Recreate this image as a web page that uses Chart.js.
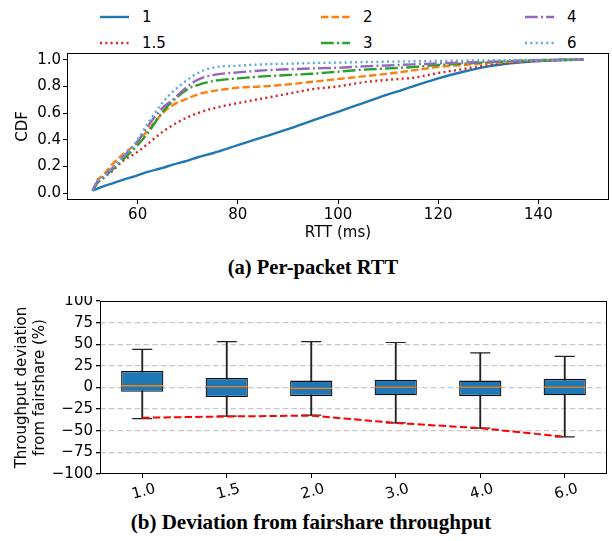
<!DOCTYPE html>
<html>
<head>
<meta charset="utf-8">
<script src="https://cdn.jsdelivr.net/npm/chart.js@4.4.1/dist/chart.umd.min.js"></script>
<style>
  body { margin: 0; background: #fff; }
  #page { position: relative; width: 612px; height: 541px; overflow: hidden; font-family: "DejaVu Sans"; }
  canvas { position: absolute; left: 0; }
  .cap { position: absolute; left: 0; width: 612px; text-align: center; font-family: "Liberation Serif"; font-weight: bold; color: #000; line-height: 24px; }
  .leg { position: absolute; font-size: 15px; color: #000; line-height: 18px; }
  .leg svg { position: absolute; left: 0; top: 6px; }
  .leg span { position: absolute; left: 42px; top: 0; white-space: nowrap; }
</style>
</head>
<body>
<div id="page">
  <div id="legend"></div>
  <canvas id="c1" width="612" height="195" style="top:48px"></canvas>
  <div class="cap" style="top:255px; font-size:20.5px; left:7px">(a) Per-packet RTT</div>
  <canvas id="c2" width="612" height="208" style="top:296px"></canvas>
  <div class="cap" style="top:510px; font-size:21px; left:5px">(b) Deviation from fairshare throughput</div>
</div>
<script>
// ---- top: CDF of per-packet RTT ----
var rttX = [51, 52, 53, 55, 57, 60, 62, 65, 67, 70, 72, 75, 80, 85, 90, 95, 100, 105, 110, 115, 120, 125, 130, 135, 140, 145, 149];
var cdf1   = [0.02, 0.035, 0.05, 0.075, 0.10, 0.135, 0.16, 0.19, 0.215, 0.245, 0.27, 0.30, 0.36, 0.42, 0.48, 0.545, 0.61, 0.675, 0.74, 0.80, 0.86, 0.91, 0.95, 0.975, 0.99, 0.998, 1.0];
var cdf1_5 = [0.02, 0.08, 0.11, 0.17, 0.24, 0.31, 0.37, 0.46, 0.51, 0.57, 0.60, 0.635, 0.675, 0.71, 0.745, 0.78, 0.80, 0.83, 0.85, 0.865, 0.90, 0.93, 0.96, 0.978, 0.99, 0.997, 1.0];
var cdf2   = [0.02, 0.10, 0.13, 0.22, 0.29, 0.38, 0.47, 0.60, 0.66, 0.71, 0.74, 0.765, 0.79, 0.80, 0.815, 0.835, 0.855, 0.875, 0.895, 0.92, 0.945, 0.96, 0.975, 0.985, 0.995, 0.999, 1.0];
var cdf3   = [0.02, 0.08, 0.11, 0.18, 0.25, 0.36, 0.45, 0.61, 0.69, 0.78, 0.81, 0.84, 0.86, 0.875, 0.885, 0.895, 0.91, 0.925, 0.935, 0.945, 0.96, 0.97, 0.98, 0.99, 0.996, 0.999, 1.0];
var cdf4   = [0.02, 0.09, 0.12, 0.19, 0.27, 0.39, 0.50, 0.64, 0.70, 0.80, 0.85, 0.885, 0.905, 0.92, 0.928, 0.935, 0.94, 0.95, 0.957, 0.965, 0.972, 0.978, 0.985, 0.99, 0.996, 0.999, 1.0];
var cdf6   = [0.02, 0.09, 0.12, 0.19, 0.27, 0.40, 0.52, 0.68, 0.76, 0.85, 0.90, 0.94, 0.955, 0.965, 0.97, 0.975, 0.978, 0.982, 0.985, 0.988, 0.99, 0.993, 0.995, 0.997, 0.998, 0.999, 1.0];

var seriesNames  = ['1', '1.5', '2', '3', '4', '6'];
var seriesValues = [cdf1, cdf1_5, cdf2, cdf3, cdf4, cdf6];
var seriesColors = ['#1f77b4', '#d62728', '#ff7f0e', '#2ca02c', '#9467bd', '#57a9e2'];
var seriesDashes = [[], [2, 3.3], [7.4, 3.2], [12.8, 3.2, 2, 3.2], [12.8, 3.2, 2, 3.2], [2, 3.3]];

var rttTicks = [60, 80, 100, 120, 140];
var cdfTicks = [0, 0.2, 0.4, 0.6, 0.8, 1.0];

// ---- bottom: deviation from fairshare throughput ----
var ratios  = ['1.0', '1.5', '2.0', '3.0', '4.0', '6.0'];
var devMin  = [-36, -33, -32, -41, -47, -57];
var devQ1   = [-5, -11, -10, -9, -10, -9];
var devMed  = [2, 1, -1, 0.5, 0.5, 0.5];
var devQ3   = [19, 11, 8, 9, 8, 10];
var devMax  = [44, 53, 53, 52, 40, 36];
var fairLine = [-35, -33.5, -32.5, -41, -47, -57];
var devTicks = [-100, -75, -50, -25, 0, 25, 50, 75, 100];

Chart.defaults.font.family = 'DejaVu Sans';
Chart.defaults.font.size = 15;
Chart.defaults.color = '#000';

var framePlugin = {
  id: 'frame',
  afterDraw: function(chart) {
    var a = chart.chartArea, ctx = chart.ctx;
    ctx.save();
    ctx.strokeStyle = '#000';
    ctx.lineWidth = 1;
    ctx.strokeRect(Math.round(a.left) + 0.5, Math.round(a.top) + 0.5, Math.round(a.right - a.left) - 1, Math.round(a.bottom - a.top) - 1);
    ctx.restore();
  }
};

function noPad(s) {
  s.paddingTop = 0; s.paddingBottom = 0; s.paddingLeft = 0; s.paddingRight = 0;
}

// legend (html)
var legendPos = [[100, 8], [100, 34], [321, 8], [321, 34], [525, 8], [525, 34]];
var leg = document.getElementById('legend');
seriesNames.forEach(function(name, i) {
  var d = document.createElement('div');
  d.className = 'leg';
  d.style.left = legendPos[i][0] + 'px';
  d.style.top = legendPos[i][1] + 'px';
  d.innerHTML = '<svg width="29" height="6"><line x1="0" y1="3" x2="29" y2="3" stroke="' + seriesColors[i] +
    '" stroke-width="2.4" stroke-dasharray="' + (seriesDashes[i].length ? seriesDashes[i].join(',') : 'none') + '"/></svg>' +
    '<span>' + name + '</span>';
  leg.appendChild(d);
});

var lineSets = seriesNames.map(function(name, i) {
  return {
    label: name,
    data: rttX.map(function(x, j) { return {x: x, y: seriesValues[i][j]}; }),
    borderColor: seriesColors[i],
    borderWidth: 2.4,
    borderDash: seriesDashes[i],
    pointRadius: 0,
    fill: false,
    cubicInterpolationMode: 'monotone',
    order: seriesNames.length - 1 - i
  };
});

new Chart(document.getElementById('c1'), {
  type: 'line',
  data: { datasets: lineSets },
  options: {
    responsive: false, animation: false, devicePixelRatio: 1, events: [],
    layout: { autoPadding: false, padding: { top: 5, right: 3, left: 0, bottom: 0 } },
    plugins: { legend: { display: false }, tooltip: { enabled: false } },
    scales: {
      x: {
        type: 'linear', min: 45.9, max: 154.1,
        afterBuildTicks: function(s) { s.ticks = rttTicks.map(function(v) { return {value: v}; }); },
        afterFit: function(s) { s.height = 43; noPad(s); },
        grid: { drawOnChartArea: false, tickLength: 4, color: '#000', tickColor: '#000' },
        border: { display: false },
        ticks: { padding: 2, color: '#000' },
        title: { display: true, text: 'RTT (ms)', padding: { top: 0, bottom: 1 }, color: '#000' }
      },
      y: {
        min: -0.05, max: 1.05,
        afterBuildTicks: function(s) { s.ticks = cdfTicks.map(function(v) { return {value: v}; }); },
        afterFit: function(s) { s.width = 67; noPad(s); },
        grid: { drawOnChartArea: false, tickLength: 4, color: '#000', tickColor: '#000' },
        border: { display: false },
        ticks: { padding: 2, color: '#000', callback: function(v) { return v.toFixed(1); } },
        title: { display: true, text: 'CDF', padding: { top: 14, bottom: 0 }, color: '#000' }
      }
    }
  },
  plugins: [framePlugin]
});

var whiskers = ratios.map(function(r, i) { return [devMin[i], devMax[i]]; });
var boxes = ratios.map(function(r, i) { return [devQ1[i], devQ3[i]]; });

new Chart(document.getElementById('c2'), {
  type: 'bar',
  data: {
    labels: ratios,
    datasets: [
      { type: 'line', data: fairLine, borderColor: '#ff0000', borderWidth: 2, borderDash: [7.4, 3.2], pointRadius: 0, fill: false, order: 0 },
      { type: 'line', data: devMed, showLine: false, pointStyle: 'line', pointRadius: 21, pointBorderColor: '#ff7f0e', pointBorderWidth: 1.3, order: 1 },
      { type: 'line', data: devMax, showLine: false, pointStyle: 'line', pointRadius: 10, pointBorderColor: '#222', pointBorderWidth: 1.2, order: 1 },
      { type: 'line', data: devMin, showLine: false, pointStyle: 'line', pointRadius: 10, pointBorderColor: '#222', pointBorderWidth: 1.2, order: 1 },
      { data: boxes, backgroundColor: '#1f77b4', borderColor: '#111', borderWidth: 1.3, borderSkipped: false,
        grouped: false, categoryPercentage: 1, barPercentage: 0.5, order: 2 },
      { data: whiskers, backgroundColor: '#222', borderWidth: 0, grouped: false, barThickness: 1.2, order: 3 }
    ]
  },
  options: {
    responsive: false, animation: false, devicePixelRatio: 1, events: [],
    layout: { autoPadding: false, padding: { top: 5, right: 5, left: 0, bottom: 0 } },
    plugins: { legend: { display: false }, tooltip: { enabled: false } },
    scales: {
      x: {
        offset: true,
        afterFit: function(s) { s.height = 30; noPad(s); },
        grid: { offset: false, drawOnChartArea: false, tickLength: 4, color: '#000', tickColor: '#000' },
        border: { display: false },
        ticks: { padding: 2, color: '#000', minRotation: 15, maxRotation: 15, labelOffset: 13, autoSkip: false }
      },
      y: {
        min: -100, max: 100,
        afterBuildTicks: function(s) { s.ticks = devTicks.map(function(v) { return {value: v}; }); },
        ticks: { autoSkip: false, padding: 3, color: '#000',
          callback: function(v) { return v < 0 ? '\u2212' + Math.abs(v) : String(v); } },
        afterFit: function(s) { s.width = 100; noPad(s); },
        grid: {
          tickLength: 4, tickColor: '#000', lineWidth: 1.3,
          color: function(c) { return (c.tick && Math.abs(c.tick.value) === 100) ? 'rgba(0,0,0,0)' : '#c8c8c8'; }
        },
        border: { display: false, dash: [5.5, 3.2] },
        title: { display: true, text: ['Throughput deviation', 'from fairshare (%)'], padding: { top: 13, bottom: 0 }, color: '#000' }
      }
    }
  },
  plugins: [framePlugin]
});
</script>
</body>
</html>
